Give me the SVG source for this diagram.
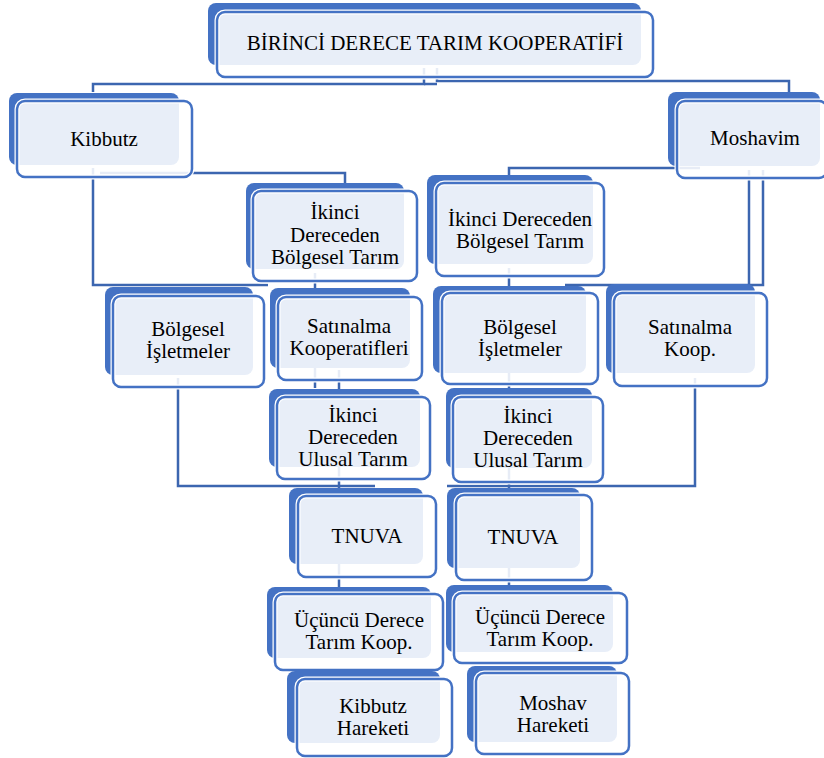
<svg xmlns="http://www.w3.org/2000/svg" width="824" height="758" viewBox="0 0 824 758">
<style>
.bk{fill:#4472C4}
.fh{fill:none;stroke:#ffffff;stroke-width:5}
.fr{fill:#ffffff;fill-opacity:0.88;stroke:#4472C4;stroke-width:2.5}
.t{font-size:21px;fill:#000;text-anchor:middle}
.c{fill:none;stroke:#3C66B0;stroke-width:2.5}
</style>
<rect width="824" height="758" fill="#ffffff"/>
<g id="connectors">
<path class="c" d="M424,68 V84 H93 V92"/>
<path class="c" d="M424,84 H437"/>
<path class="c" d="M437,68 V81 H789 V92"/>
<path class="c" d="M100,173 H345 V183"/>
<path class="c" d="M93,168 V285 H268"/>
<path class="c" d="M315,273 V388"/>
<path class="c" d="M339,370 V590"/>
<path class="c" d="M178,378 V486 H375"/>
<path class="c" d="M700,168 H509 V175"/>
<path class="c" d="M509,268 V590"/>
<path class="c" d="M749,170 V284"/>
<path class="c" d="M763,170 V285 H565"/>
<path class="c" d="M695,378 V486 H447"/>
</g>
<g font-family="'Liberation Serif', 'Times New Roman', 'DejaVu Serif', serif">
<g id="n1">
<rect class="bk" x="208" y="3" width="433" height="62" rx="8"/>
<rect class="fh" x="217" y="12" width="436" height="65" rx="8"/>
<rect class="fr" x="217" y="12" width="436" height="65" rx="8"/>
<text class="t" x="435" y="50">BİRİNCİ DERECE TARIM KOOPERATİFİ</text>
</g>
<g id="n2">
<rect class="bk" x="9" y="93" width="170" height="72" rx="8"/>
<rect class="fh" x="17" y="101" width="175" height="76" rx="8"/>
<rect class="fr" x="17" y="101" width="175" height="76" rx="8"/>
<text class="t" x="104" y="146">Kibbutz</text>
</g>
<g id="n3">
<rect class="bk" x="668" y="92" width="152" height="74" rx="8"/>
<rect class="fh" x="677" y="101" width="150" height="77" rx="8"/>
<rect class="fr" x="677" y="101" width="150" height="77" rx="8"/>
<text class="t" x="755" y="145">Moshavim</text>
</g>
<g id="n4">
<rect class="bk" x="246" y="183" width="158" height="86" rx="8"/>
<rect class="fh" x="253" y="191" width="164" height="90" rx="8"/>
<rect class="fr" x="253" y="191" width="164" height="90" rx="8"/>
<text class="t" x="335" y="219">İkinci</text>
<text class="t" x="335" y="242">Dereceden</text>
<text class="t" x="335" y="264">Bölgesel Tarım</text>
</g>
<g id="n5">
<rect class="bk" x="427" y="175" width="166" height="89" rx="8"/>
<rect class="fh" x="436" y="183" width="168" height="93" rx="8"/>
<rect class="fr" x="436" y="183" width="168" height="93" rx="8"/>
<text class="t" x="520" y="226">İkinci Dereceden</text>
<text class="t" x="520" y="248">Bölgesel Tarım</text>
</g>
<g id="n6">
<rect class="bk" x="105" y="287" width="148" height="88" rx="8"/>
<rect class="fh" x="113" y="296" width="151" height="91" rx="8"/>
<rect class="fr" x="113" y="296" width="151" height="91" rx="8"/>
<text class="t" x="188" y="336">Bölgesel</text>
<text class="t" x="188" y="358">İşletmeler</text>
</g>
<g id="n7">
<rect class="bk" x="270" y="288" width="140" height="80" rx="8"/>
<rect class="fh" x="278" y="297" width="144" height="83" rx="8"/>
<rect class="fr" x="278" y="297" width="144" height="83" rx="8"/>
<text class="t" x="349" y="333">Satınalma</text>
<text class="t" x="349" y="355">Kooperatifleri</text>
</g>
<g id="n8">
<rect class="bk" x="433" y="286" width="153" height="87" rx="8"/>
<rect class="fh" x="442" y="293" width="156" height="91" rx="8"/>
<rect class="fr" x="442" y="293" width="156" height="91" rx="8"/>
<text class="t" x="520" y="334">Bölgesel</text>
<text class="t" x="520" y="356">İşletmeler</text>
</g>
<g id="n9">
<rect class="bk" x="606" y="284" width="149" height="89" rx="8"/>
<rect class="fh" x="614" y="293" width="153" height="93" rx="8"/>
<rect class="fr" x="614" y="293" width="153" height="93" rx="8"/>
<text class="t" x="690" y="334">Satınalma</text>
<text class="t" x="690" y="356">Koop.</text>
</g>
<g id="n10">
<rect class="bk" x="269" y="389" width="151" height="78" rx="8"/>
<rect class="fh" x="277" y="397" width="153" height="82" rx="8"/>
<rect class="fr" x="277" y="397" width="153" height="82" rx="8"/>
<text class="t" x="353" y="422">İkinci</text>
<text class="t" x="353" y="444">Dereceden</text>
<text class="t" x="353" y="466">Ulusal Tarım</text>
</g>
<g id="n11">
<rect class="bk" x="446" y="388" width="146" height="80" rx="8"/>
<rect class="fh" x="453" y="397" width="150" height="85" rx="8"/>
<rect class="fr" x="453" y="397" width="150" height="85" rx="8"/>
<text class="t" x="528" y="423">İkinci</text>
<text class="t" x="528" y="445">Dereceden</text>
<text class="t" x="528" y="467">Ulusal Tarım</text>
</g>
<g id="n12">
<rect class="bk" x="289" y="488" width="134" height="76" rx="8"/>
<rect class="fh" x="298" y="496" width="138" height="81" rx="8"/>
<rect class="fr" x="298" y="496" width="138" height="81" rx="8"/>
<text class="t" x="367" y="543">TNUVA</text>
</g>
<g id="n13">
<rect class="bk" x="447" y="488" width="133" height="80" rx="8"/>
<rect class="fh" x="456" y="495" width="136" height="85" rx="8"/>
<rect class="fr" x="456" y="495" width="136" height="85" rx="8"/>
<text class="t" x="523" y="544">TNUVA</text>
</g>
<g id="n14">
<rect class="bk" x="267" y="587" width="164" height="71" rx="8"/>
<rect class="fh" x="275" y="594" width="168" height="76" rx="8"/>
<rect class="fr" x="275" y="594" width="168" height="76" rx="8"/>
<text class="t" x="359" y="627">Üçüncü Derece</text>
<text class="t" x="359" y="649">Tarım Koop.</text>
</g>
<g id="n15">
<rect class="bk" x="446" y="585" width="167" height="67" rx="8"/>
<rect class="fh" x="454" y="593" width="173" height="70" rx="8"/>
<rect class="fr" x="454" y="593" width="173" height="70" rx="8"/>
<text class="t" x="540" y="624">Üçüncü Derece</text>
<text class="t" x="540" y="646">Tarım Koop.</text>
</g>
<g id="n16">
<rect class="bk" x="287" y="671" width="153" height="72" rx="8"/>
<rect class="fh" x="297" y="679" width="155" height="77" rx="8"/>
<rect class="fr" x="297" y="679" width="155" height="77" rx="8"/>
<text class="t" x="373" y="713">Kibbutz</text>
<text class="t" x="373" y="735">Hareketi</text>
</g>
<g id="n17">
<rect class="bk" x="467" y="666" width="150" height="76" rx="8"/>
<rect class="fh" x="476" y="673" width="153" height="81" rx="8"/>
<rect class="fr" x="476" y="673" width="153" height="81" rx="8"/>
<text class="t" x="553" y="710">Moshav</text>
<text class="t" x="553" y="732">Hareketi</text>
</g>
</g>
</svg>
